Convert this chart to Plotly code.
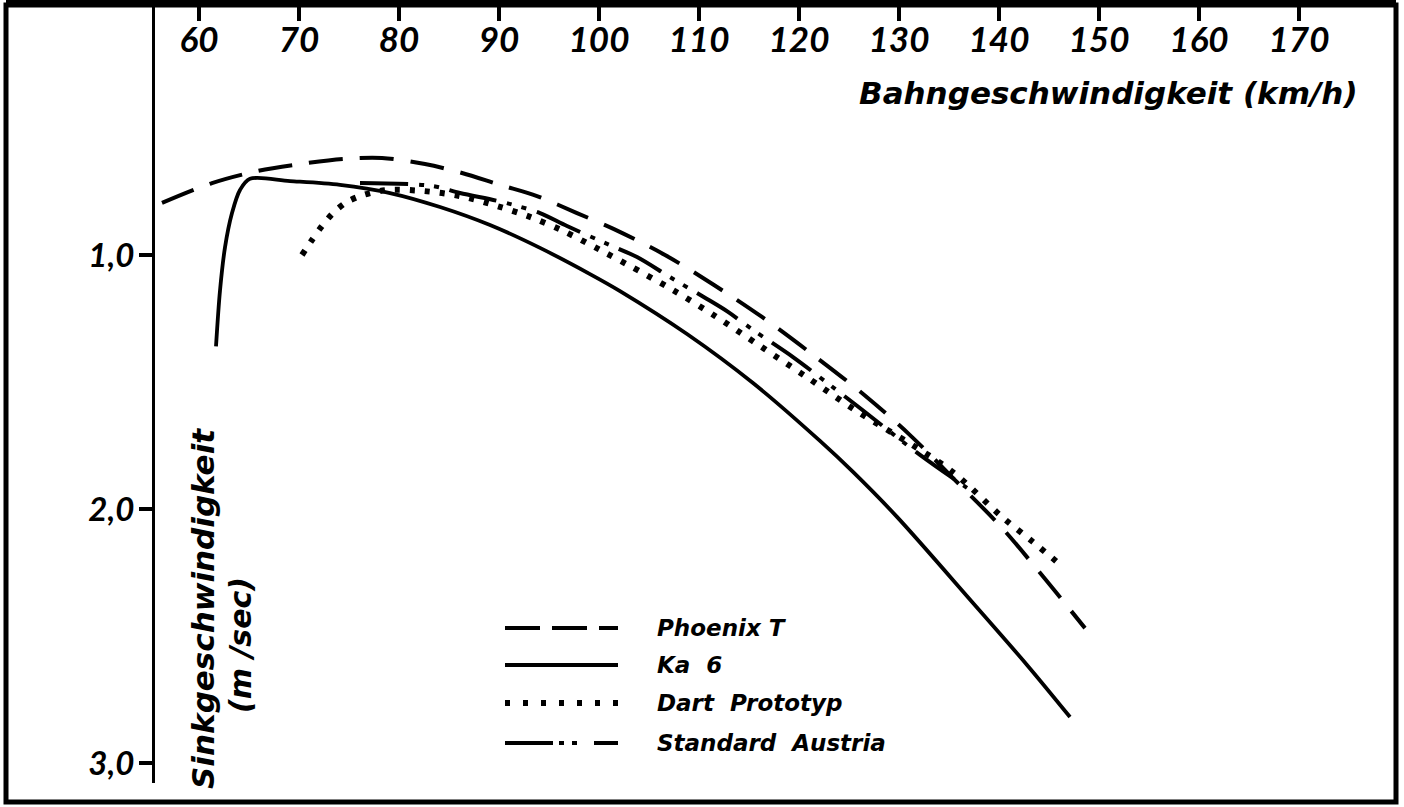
import plotly.graph_objects as go

# ---------------- data ----------------
speed_ticks = [60, 70, 80, 90, 100, 110, 120, 130, 140, 150, 160, 170]
sink_ticks = [1.0, 2.0, 3.0]
sink_tick_labels = ["1,0", "2,0", "3,0"]

series_names = ["Phoenix T", "Ka  6", "Dart  Prototyp", "Standard  Austria"]

phoenix_x = [56.3, 61.3, 65.9, 70.1, 74.4, 78.3, 82.6, 86.3, 90.1, 93.8, 97.8, 101.5,
             106.6, 111.5, 116.3, 121.3, 126.5, 131.1, 135.6, 140.2, 144.2, 148.6]
phoenix_y = [0.795, 0.717, 0.669, 0.642, 0.622, 0.618, 0.642, 0.677, 0.724, 0.768, 0.835, 0.898,
             1.0, 1.118, 1.244, 1.39, 1.55, 1.709, 1.886, 2.07, 2.256, 2.469]

ka6_x = [61.7, 62.1, 62.6, 63.3, 64.1, 65.1, 69.1, 74.1, 79.1, 84.1, 89.1, 94.1, 99.1, 102.1,
         108.8, 115.4, 122.1, 125.4, 129.8, 137.4, 142.8, 147.1]
ka6_y = [1.36, 1.14, 0.97, 0.835, 0.744, 0.70, 0.709, 0.724, 0.756, 0.811, 0.882, 0.972, 1.075, 1.142,
         1.311, 1.504, 1.732, 1.854, 2.031, 2.37, 2.614, 2.819]

dart_x = [70.3, 71.3, 72.3, 73.4, 74.8, 76.4, 78.8, 82.4, 86.1, 89.8, 93.1, 96.4, 100.1, 102.9,
          107.4, 111.6, 116.1, 120.6, 125.6, 135.1, 140.3, 143.4, 146.4]
dart_y = [1.0, 0.941, 0.886, 0.835, 0.791, 0.764, 0.744, 0.748, 0.768, 0.807, 0.85, 0.905, 0.98, 1.039,
          1.138, 1.24, 1.358, 1.476, 1.61, 1.846, 2.031, 2.13, 2.228]

austria_x = [76.1, 83.3, 86.1, 90.7, 94.1, 96.8, 101.1, 103.8, 107.1, 110.8, 112.9, 115.4,
             119.4, 123.1, 126.6, 132.1, 136.8]
austria_y = [0.717, 0.728, 0.756, 0.795, 0.835, 0.886, 0.961, 1.008, 1.087, 1.173, 1.224, 1.295,
             1.402, 1.512, 1.618, 1.787, 1.917]

series_x = [phoenix_x, ka6_x, dart_x, austria_x]
series_y = [phoenix_y, ka6_y, dart_y, austria_y]

x_title = "Bahngeschwindigkeit (km/h)"
y_title = "Sinkgeschwindigkeit"
y_unit = "(m /sec)"

# ---------------- styling / layout ----------------
W, H = 1404, 807
ML, MR, MT, MB = 6, 8, 5, 5
PW, PH = W - ML - MR, H - MT - MB


def fx(px):
    return (px - ML) / PW


def fy(py):
    return 1 - (py - MT) / PH


TICKFONT = "Lato, 'DejaVu Sans', sans-serif"
TEXTFONT = "'DejaVu Sans', Lato, sans-serif"

line_styles = [
    dict(color="black", width=4, dash="34px,17px"),
    dict(color="black", width=3.8),
    dict(color="black", width=6, dash="5px,10px"),
    dict(color="black", width=4, dash="48px,11px,5px,10px,5px,11px"),
]
legend_styles = [
    dict(color="black", width=4, dash="35px,12px"),
    dict(color="black", width=3.8),
    dict(color="black", width=6, dash="5px,13px"),
    dict(color="black", width=4, dash="48px,6px,5px,8px,5px,17px"),
]
legend_rows = [628, 665, 703, 743]

fig = go.Figure()
for name, xs, ys, st in zip(series_names, series_x, series_y, line_styles):
    fig.add_trace(go.Scatter(x=xs, y=ys, mode="lines", name=name,
                             line=dict(shape="spline", smoothing=0.9, **st),
                             showlegend=False, hoverinfo="skip"))

shapes = [dict(type="rect", xref="paper", yref="paper", x0=0, x1=1, y0=0, y1=1,
               line=dict(color="black", width=5), layer="above")]

annotations = []
for name, st, row in zip(series_names, legend_styles, legend_rows):
    shapes.append(dict(type="line", xref="paper", yref="paper",
                       x0=fx(505), x1=fx(618), y0=fy(row), y1=fy(row), line=st))
    annotations.append(dict(text=name.replace("  ", "\u00a0 "), xref="paper", yref="paper",
                            x=fx(655), y=fy(row), xanchor="left", yanchor="middle",
                            showarrow=False,
                            font=dict(family=TEXTFONT, size=23, color="black", style="italic", weight="bold")))

annotations.append(dict(text=x_title, xref="paper", yref="paper",
                        x=fx(1360), y=fy(93), xanchor="right", yanchor="middle", showarrow=False,
                        font=dict(family=TEXTFONT, size=31, color="black", style="italic", weight="bold")))
annotations.append(dict(text=y_title, xref="paper", yref="paper",
                        x=fx(203), y=fy(609), xanchor="center", yanchor="middle", showarrow=False,
                        textangle=-90,
                        font=dict(family=TEXTFONT, size=31, color="black", style="italic", weight="bold")))
annotations.append(dict(text=y_unit, xref="paper", yref="paper",
                        x=fx(240), y=fy(645), xanchor="center", yanchor="middle", showarrow=False,
                        textangle=-90,
                        font=dict(family=TEXTFONT, size=30, color="black", style="italic", weight="bold")))

fig.update_layout(
    width=W, height=H,
    margin=dict(l=ML, r=MR, t=MT, b=MB, pad=0),
    paper_bgcolor="white", plot_bgcolor="white",
    shapes=shapes, annotations=annotations,
    xaxis=dict(side="top", range=[40.7, 179.7], tickvals=speed_ticks,
               ticks="inside", ticklen=16, tickwidth=3.5, tickcolor="black",
               ticklabelposition="inside", ticklabelstandoff=10,
               tickfont=dict(family=TICKFONT, size=35, color="black", style="italic", weight="bold"),
               showline=True, linewidth=5, linecolor="black",
               showgrid=False, zeroline=False, anchor="y", fixedrange=True),
    yaxis=dict(domain=[fy(783), 1], range=[3.0787, 0.01575], anchor="free", position=fx(153),
               tickvals=sink_ticks, ticktext=sink_tick_labels,
               ticks="outside", ticklen=13, tickwidth=3.5, tickcolor="black",
               ticklabelstandoff=-2,
               tickfont=dict(family=TICKFONT, size=33, color="black", style="italic", weight="bold"),
               showline=True, linewidth=3, linecolor="black",
               showgrid=False, zeroline=False, fixedrange=True),
)

fig.write_html("out.html")
